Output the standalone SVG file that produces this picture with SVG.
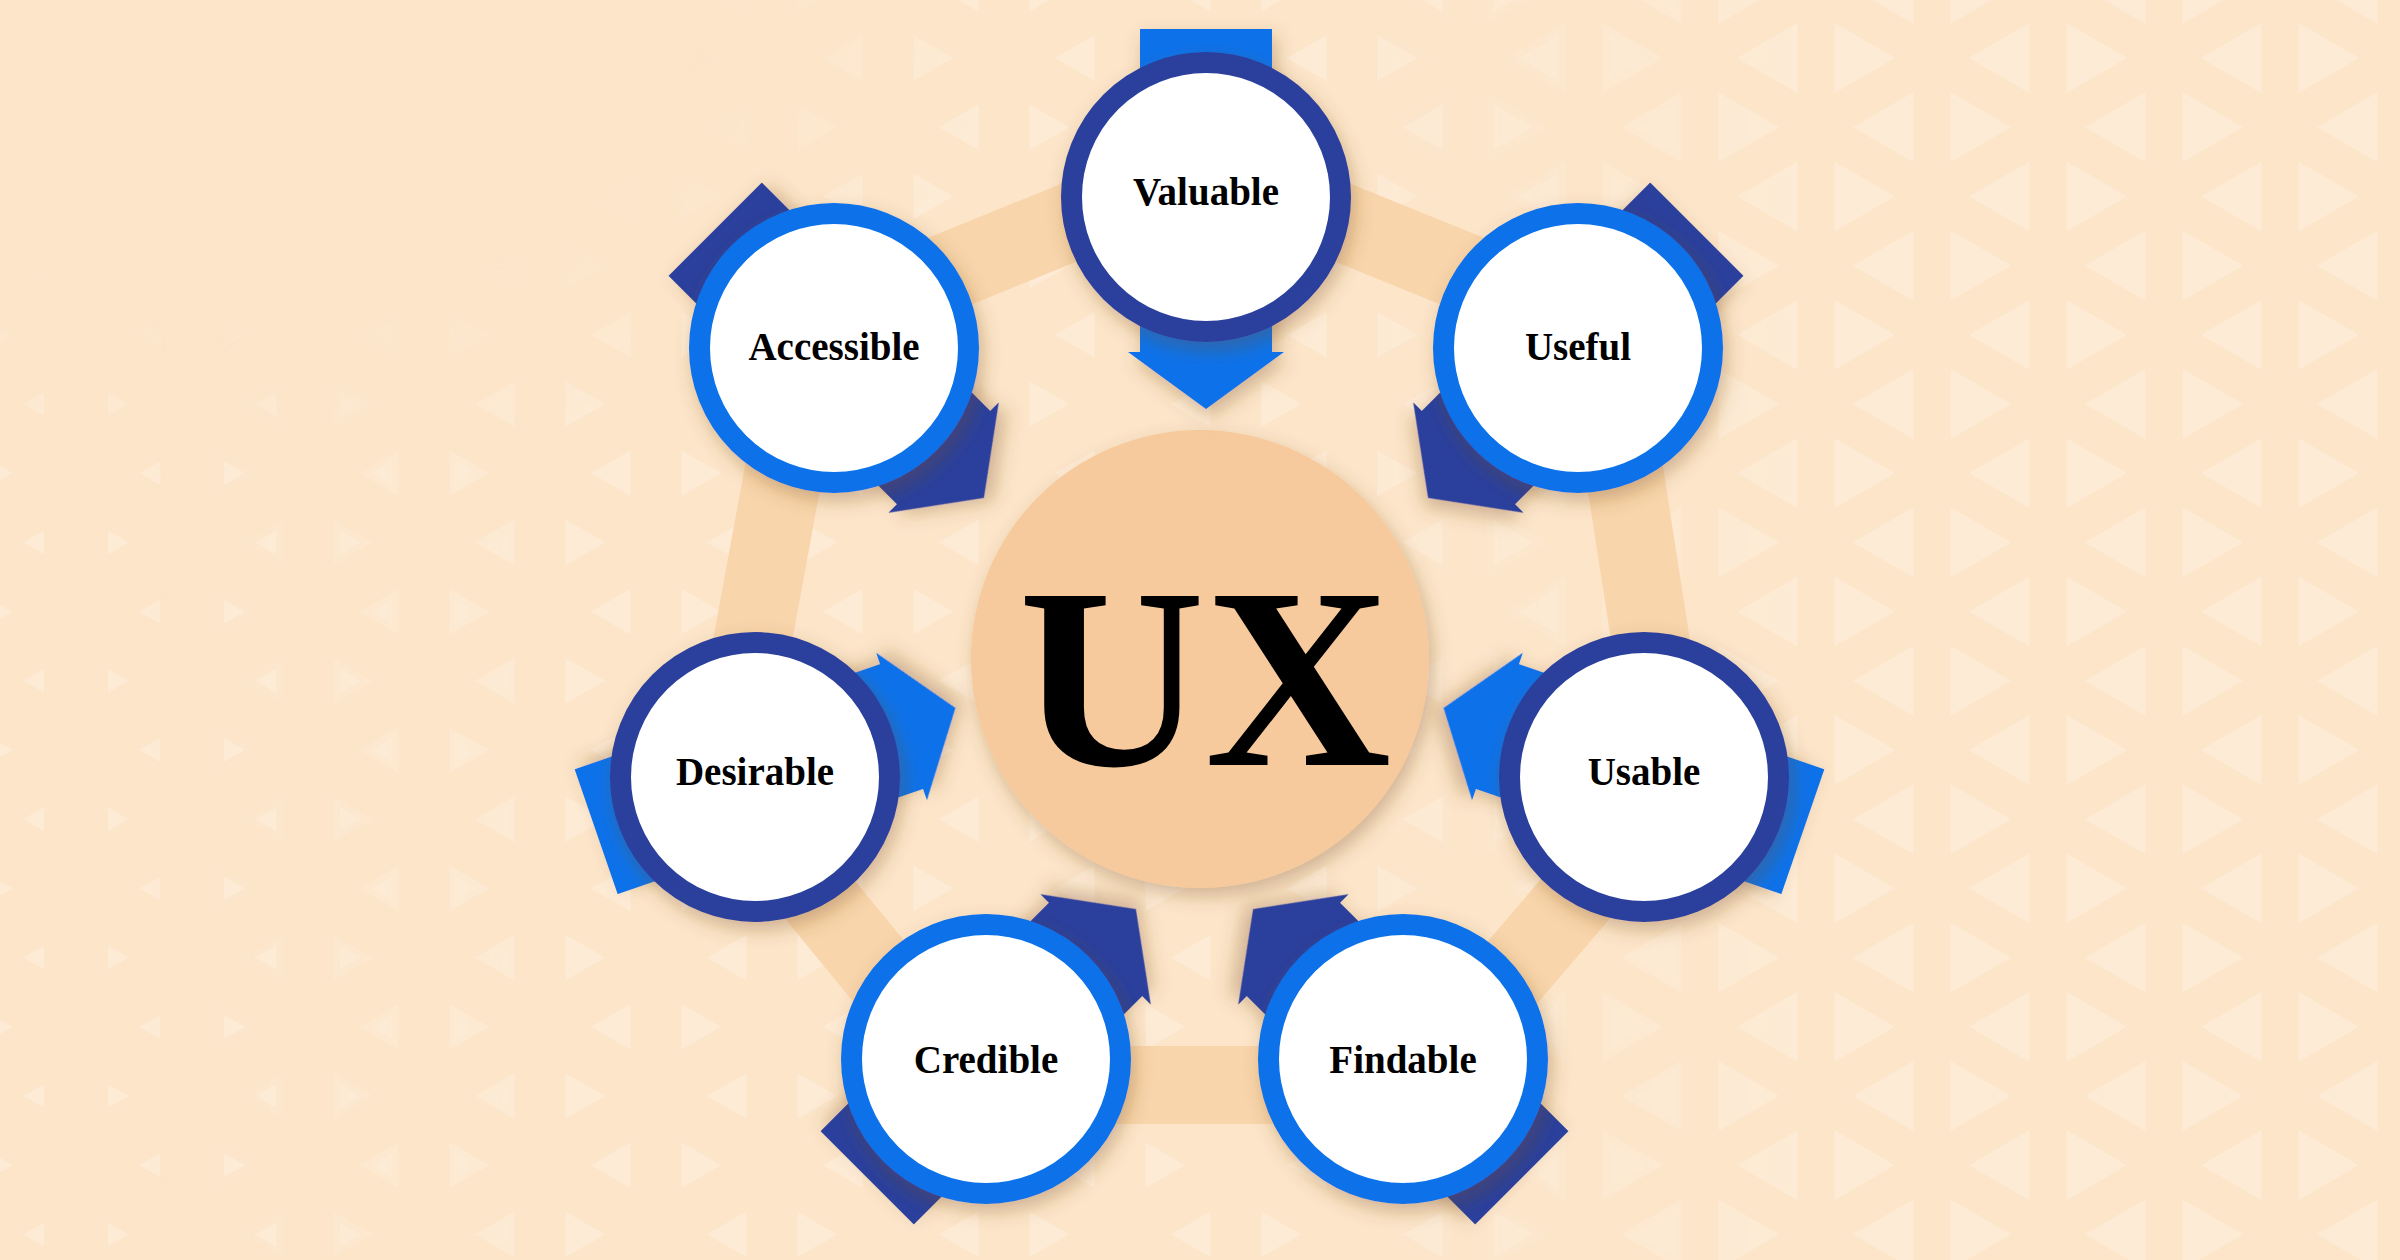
<svg xmlns="http://www.w3.org/2000/svg" width="2400" height="1260" viewBox="0 0 2400 1260">
<defs>
<style>
.bg{fill:#FCE5C9}
.tri{fill:#FFF1E2;fill-opacity:0.5}
.band{fill:none;stroke:#F8D5AB;stroke-width:78;stroke-linejoin:round}
.navy{fill:#2A409C}
.blue{fill:#0A72EA}
.ring-navy{fill:#FFFFFF;stroke:#2A409C;stroke-width:21}
.ring-blue{fill:#FFFFFF;stroke:#0A72EA;stroke-width:21}
.core{fill:#F6CA9C}
.label{font-family:"Liberation Serif","Times New Roman",serif;font-weight:bold;font-size:39px;fill:#000000;text-anchor:middle}
.ux{font-family:"Liberation Serif","Times New Roman",serif;font-weight:bold;font-size:258px;fill:#000000;text-anchor:middle}
</style>
<filter id="sh" x="-30%" y="-30%" width="160%" height="160%">
<feDropShadow dx="4" dy="8" stdDeviation="9" flood-color="#7a4a1c" flood-opacity="0.33"/>
</filter>
<path id="arrow" d="M-66,-168H66V155H78L0,212L-78,155H-66Z"/>
<pattern id="pBig" patternUnits="userSpaceOnUse" x="192" y="58" width="232" height="138.4">
<path class="tri" d="M18.5,-35V35L79.1,0Z M213.5,-35V35L152.9,0Z M18.5,103.4V173.4L79.1,138.4Z M213.5,103.4V173.4L152.9,138.4Z M134.5,34.2V104.2L195.1,69.2Z M97.5,34.2V104.2L36.9,69.2Z"/>
</pattern>
<pattern id="pMed" patternUnits="userSpaceOnUse" x="192" y="58" width="232" height="138.4">
<path class="tri" d="M25.4,-23V23L65.2,0Z M206.6,-23V23L166.8,0Z M25.4,115.4V161.4L65.2,138.4Z M206.6,115.4V161.4L166.8,138.4Z M141.4,46.2V92.2L181.2,69.2Z M90.6,46.2V92.2L50.8,69.2Z"/>
</pattern>
<pattern id="pSmall" patternUnits="userSpaceOnUse" x="192" y="58" width="232" height="138.4">
<path class="tri" d="M31.8,-12V12L52.6,0Z M200.2,-12V12L179.4,0Z M31.8,126.4V150.4L52.6,138.4Z M200.2,126.4V150.4L179.4,138.4Z M147.8,57.2V81.2L168.6,69.2Z M84.2,57.2V81.2L63.4,69.2Z"/>
</pattern>
<linearGradient id="gBig" gradientUnits="userSpaceOnUse" x1="1350" y1="0" x2="1800" y2="0">
<stop offset="0" stop-color="#000000"/><stop offset="1" stop-color="#FFFFFF"/>
</linearGradient>
<linearGradient id="gMed" gradientUnits="userSpaceOnUse" x1="150" y1="0" x2="1800" y2="0">
<stop offset="0" stop-color="#000000"/><stop offset="0.25" stop-color="#FFFFFF"/><stop offset="0.727" stop-color="#FFFFFF"/><stop offset="1" stop-color="#000000"/>
</linearGradient>
<linearGradient id="gSmall" gradientUnits="userSpaceOnUse" x1="0" y1="0" x2="600" y2="0">
<stop offset="0" stop-color="#FFFFFF"/><stop offset="0.4" stop-color="#FFFFFF"/><stop offset="1" stop-color="#000000"/>
</linearGradient>
<radialGradient id="gTL">
<stop offset="0" stop-color="#000000" stop-opacity="1"/><stop offset="0.6" stop-color="#000000" stop-opacity="1"/><stop offset="1" stop-color="#000000" stop-opacity="0"/>
</radialGradient>
<mask id="mBig" maskUnits="userSpaceOnUse" x="0" y="0" width="2400" height="1260">
<rect width="2400" height="1260" fill="url(#gBig)"/>
</mask>
<mask id="mMed" maskUnits="userSpaceOnUse" x="0" y="0" width="2400" height="1260">
<rect width="2400" height="1260" fill="url(#gMed)"/>
<ellipse cx="250" cy="0" rx="750" ry="480" fill="url(#gTL)"/>
</mask>
<mask id="mSmall" maskUnits="userSpaceOnUse" x="0" y="0" width="2400" height="1260">
<rect width="2400" height="1260" fill="url(#gSmall)"/>
<ellipse cx="250" cy="0" rx="750" ry="480" fill="url(#gTL)"/>
</mask>
</defs>

<g id="background">
<rect class="bg" width="2400" height="1260"/>
<rect width="2400" height="1260" fill="url(#pSmall)" mask="url(#mSmall)"/>
<rect width="2400" height="1260" fill="url(#pMed)" mask="url(#mMed)"/>
<rect width="2400" height="1260" fill="url(#pBig)" mask="url(#mBig)"/>
</g>

<g id="connectors">
<polygon class="band" points="1206,167 1602,328 1673,785 1416,1085 972,1085 726,785 810,328"/>
</g>

<g id="node-ux">
<circle class="core" cx="1200" cy="659" r="229" filter="url(#sh)"/>
<text class="ux" x="1205" y="765">UX</text>
</g>

<g id="node-valuable" transform="translate(1206,197)">
<use href="#arrow" class="blue" filter="url(#sh)"/>
<circle r="134.5" class="ring-navy" filter="url(#sh)"/>
<text class="label" y="8">Valuable</text>
</g>

<g id="node-useful" transform="translate(1578,348)">
<use href="#arrow" class="navy" transform="rotate(45)" filter="url(#sh)"/>
<circle r="134.5" class="ring-blue" filter="url(#sh)"/>
<text class="label" y="12">Useful</text>
</g>

<g id="node-usable" transform="translate(1644,777)">
<use href="#arrow" class="blue" transform="rotate(109)" filter="url(#sh)"/>
<circle r="134.5" class="ring-navy" filter="url(#sh)"/>
<text class="label" y="8">Usable</text>
</g>

<g id="node-findable" transform="translate(1403,1059)">
<use href="#arrow" class="navy" transform="rotate(135)" filter="url(#sh)"/>
<circle r="134.5" class="ring-blue" filter="url(#sh)"/>
<text class="label" y="14">Findable</text>
</g>

<g id="node-credible" transform="translate(986,1059)">
<use href="#arrow" class="navy" transform="rotate(-135)" filter="url(#sh)"/>
<circle r="134.5" class="ring-blue" filter="url(#sh)"/>
<text class="label" y="14">Credible</text>
</g>

<g id="node-desirable" transform="translate(755,777)">
<use href="#arrow" class="blue" transform="rotate(-109)" filter="url(#sh)"/>
<circle r="134.5" class="ring-navy" filter="url(#sh)"/>
<text class="label" y="8">Desirable</text>
</g>

<g id="node-accessible" transform="translate(834,348)">
<use href="#arrow" class="navy" transform="rotate(-45)" filter="url(#sh)"/>
<circle r="134.5" class="ring-blue" filter="url(#sh)"/>
<text class="label" y="12">Accessible</text>
</g>
</svg>
